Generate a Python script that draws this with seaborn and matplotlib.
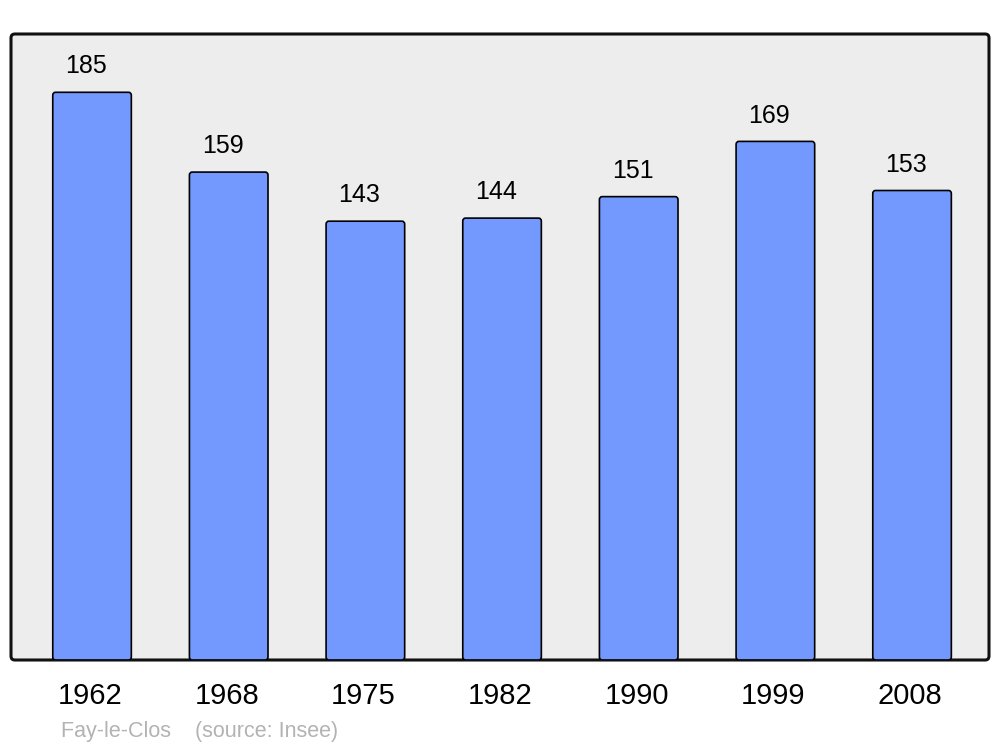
import matplotlib
matplotlib.use("Agg")
import matplotlib.pyplot as plt
import matplotlib.transforms as mtransforms
import seaborn as sns
import pandas as pd
from matplotlib.patches import FancyBboxPatch

years = ["1962", "1968", "1975", "1982", "1990", "1999", "2008"]
population = [185, 159, 143, 144, 151, 169, 153]
footer = "Fay-le-Clos    (source: Insee)"

sns.set_theme(style="white")
plt.rcParams['font.family'] = ['Liberation Sans', 'DejaVu Sans']

df = pd.DataFrame({"year": years, "pop": population})

fig = plt.figure(figsize=(10, 7.47), dpi=100)
W, H = 1000, 747
ax = fig.add_axes([11 / W, (H - 660) / H, (989 - 11) / W, (660 - 34) / H])
ax.set_facecolor("none")

# rounded frame
frame = FancyBboxPatch((0, 0), 1, 1, boxstyle="round,pad=0,rounding_size=0.004",
                       mutation_aspect=978 / 626,
                       transform=ax.transAxes, facecolor="#ededed", edgecolor="#111111",
                       linewidth=2.2, zorder=0, clip_on=False)
ax.add_patch(frame)

sns.barplot(data=df, x="year", y="pop", ax=ax, color="#7399ff", width=0.575,
            saturation=1, edgecolor="black", linewidth=1.2)

# round bar corners slightly
for p in list(ax.patches):
    if p is frame:
        continue
    x, y = p.get_x(), p.get_y()
    w, h = p.get_width(), p.get_height()
    fb = FancyBboxPatch((x, y), w, h, boxstyle="round,pad=0,rounding_size=0.02",
                        mutation_aspect=204 / 0.57 * (78 / 568),
                        facecolor="#7399ff", edgecolor="black", linewidth=1.2, zorder=2)
    p.remove()
    ax.add_patch(fb)

for i, v in enumerate(population):
    ax.annotate(str(v), xy=(i, v), xytext=(-4.3, 10), textcoords="offset points",
                ha="center", va="bottom", fontsize=18, color="black")

ax.set_xlim(-0.593, 6.563)
ax.set_ylim(0, 204)
ax.set_xlabel("")
ax.set_ylabel("")
ax.set_yticks([])
ax.tick_params(axis="x", length=0, labelsize=21, pad=16, colors="black")
shift = mtransforms.ScaledTranslation(-2 / 100, 0, fig.dpi_scale_trans)
for lbl in ax.get_xticklabels():
    lbl.set_transform(lbl.get_transform() + shift)
for s in ax.spines.values():
    s.set_visible(False)

fig.text(61 / W, 1 - 731 / H, footer, fontsize=15.5, color="#b3b3b3", va="center", ha="left")

fig.savefig("out.png", dpi=100, facecolor="white")
